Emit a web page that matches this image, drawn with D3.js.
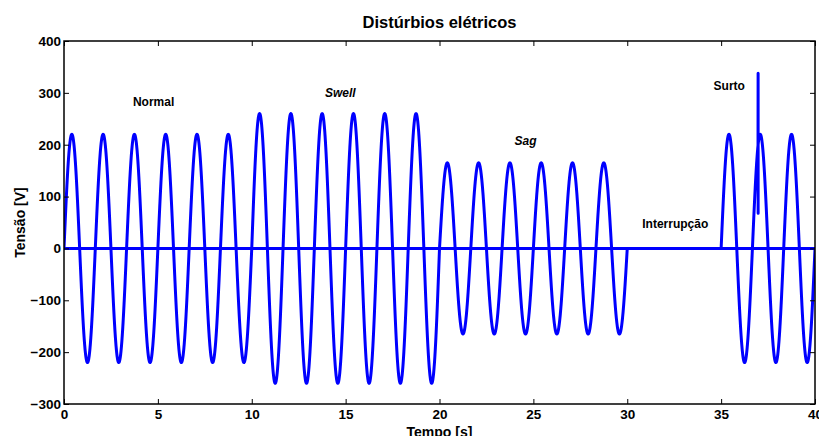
<!DOCTYPE html>
<html>
<head>
<meta charset="utf-8">
<script src="https://cdn.jsdelivr.net/npm/d3@7"></script>
<style>
  html, body { margin: 0; padding: 0; background: #fff; }
  svg { display: block; font-family: "Liberation Sans", Arial, sans-serif; }
</style>
</head>
<body>
<svg id="chart" width="819" height="436"></svg>
<script>
// Disturbance segments of the supply voltage: start/end time [s] and peak amplitude [V]
const segStart = [0, 10, 20, 30, 35];
const segEnd = [10, 20, 30, 35, 40];
const segAmplitude = [220, 260, 165, 0, 220];
const frequency = 0.6; // cycles per second

// Transient surge (spike) inserted on the last segment
const surgeTime = [36.97, 36.972];
const surgeValue = [338, 68];

// Annotations
const labelText = ["Normal", "Swell", "Sag", "Interrupção", "Surto"];
const labelX = [3.67, 13.9, 24.0, 30.8, 34.6];
const labelY = [282, 300, 207, 47, 313];
const labelItalic = [false, true, true, false, false];

const xTicks = [0, 5, 10, 15, 20, 25, 30, 35, 40];
const yTicks = [-300, -200, -100, 0, 100, 200, 300, 400];

const margin = { left: 64, right: 4, top: 41, bottom: 32 };
const W = 819, H = 436;
const svg = d3.select("#chart");

const x = d3.scaleLinear().domain([0, 40]).range([margin.left, W - margin.right]);
const y = d3.scaleLinear().domain([-300, 400]).range([H - margin.bottom, margin.top]);

// Build the sampled waveform from the segment table
const samples = [];
const step = 0.005;
segStart.forEach((s, i) => {
  for (let t = s; t <= segEnd[i] + 1e-9; t += step) {
    if (i > 0 && Math.abs(t - s) < 1e-9) continue;
    samples.push([t, segAmplitude[i] * Math.sin(2 * Math.PI * frequency * t)]);
  }
});
// Splice the surge in at its time position
const insertAt = samples.findIndex(d => d[0] > surgeTime[0]);
const surgePts = surgeTime.map((t, i) => [t, surgeValue[i]]);
samples.splice(insertAt, 0, ...surgePts);

const line = d3.line().x(d => x(d[0])).y(d => y(d[1]));

const plot = svg.append("g");
plot.append("defs").append("clipPath").attr("id", "clip")
  .append("rect")
  .attr("x", x(0)).attr("y", y(400))
  .attr("width", x(40) - x(0)).attr("height", y(-300) - y(400));

const g = plot.append("g").attr("clip-path", "url(#clip)");

// Zero reference line
g.append("line")
  .attr("x1", x(0)).attr("x2", x(40))
  .attr("y1", y(0)).attr("y2", y(0))
  .attr("stroke", "#0000ff").attr("stroke-width", 3);

g.append("path")
  .datum(samples)
  .attr("d", line)
  .attr("fill", "none")
  .attr("stroke", "#0000ff")
  .attr("stroke-width", 3)
  .attr("stroke-linejoin", "round");

// Axes box with inward ticks on all four sides
const tickLen = 5;
const axisStyle = sel => {
  sel.select(".domain").remove();
  sel.selectAll("line").attr("stroke", "#000").attr("stroke-width", 1);
  sel.selectAll("text").attr("fill", "#000")
    .style("font-size", "13.5px").style("font-weight", "bold");
};

svg.append("g")
  .attr("transform", `translate(0,${y(-300)})`)
  .call(d3.axisBottom(x).tickValues(xTicks).tickFormat(d3.format("d"))
    .tickSizeInner(-tickLen).tickSizeOuter(0).tickPadding(5))
  .call(axisStyle);

svg.append("g")
  .attr("transform", `translate(0,${y(400)})`)
  .call(d3.axisTop(x).tickValues(xTicks).tickFormat("")
    .tickSizeInner(-tickLen).tickSizeOuter(0))
  .call(axisStyle);

svg.append("g")
  .attr("transform", `translate(${x(0)},0)`)
  .call(d3.axisLeft(y).tickValues(yTicks).tickFormat(d3.format("d"))
    .tickSizeInner(-tickLen).tickSizeOuter(0).tickPadding(3))
  .call(axisStyle);

svg.append("g")
  .attr("transform", `translate(${x(40)},0)`)
  .call(d3.axisRight(y).tickValues(yTicks).tickFormat("")
    .tickSizeInner(-tickLen).tickSizeOuter(0))
  .call(axisStyle);

svg.append("rect")
  .attr("x", x(0)).attr("y", y(400))
  .attr("width", x(40) - x(0)).attr("height", y(-300) - y(400))
  .attr("fill", "none").attr("stroke", "#000").attr("stroke-width", 1.5);

// Annotations inside the plot
svg.append("g").selectAll("text")
  .data(labelText)
  .join("text")
  .attr("x", (d, i) => x(labelX[i]))
  .attr("y", (d, i) => y(labelY[i]))
  .attr("dy", "0.35em")
  .style("font-size", "12px")
  .style("font-weight", "bold")
  .style("font-style", (d, i) => labelItalic[i] ? "italic" : "normal")
  .attr("fill", "#000")
  .text(d => d);

// Title and axis labels
svg.append("text")
  .attr("x", (x(0) + x(40)) / 2).attr("y", 28)
  .attr("text-anchor", "middle")
  .style("font-size", "16.5px").style("font-weight", "bold")
  .text("Distúrbios elétricos");

svg.append("text")
  .attr("x", (x(0) + x(40)) / 2).attr("y", 437)
  .attr("text-anchor", "middle")
  .style("font-size", "14px").style("font-weight", "bold")
  .text("Tempo [s]");

svg.append("text")
  .attr("transform", `translate(25,${(y(400) + y(-300)) / 2}) rotate(-90)`)
  .attr("text-anchor", "middle")
  .style("font-size", "14px").style("font-weight", "bold")
  .text("Tensão [V]");
</script>
</body>
</html>
